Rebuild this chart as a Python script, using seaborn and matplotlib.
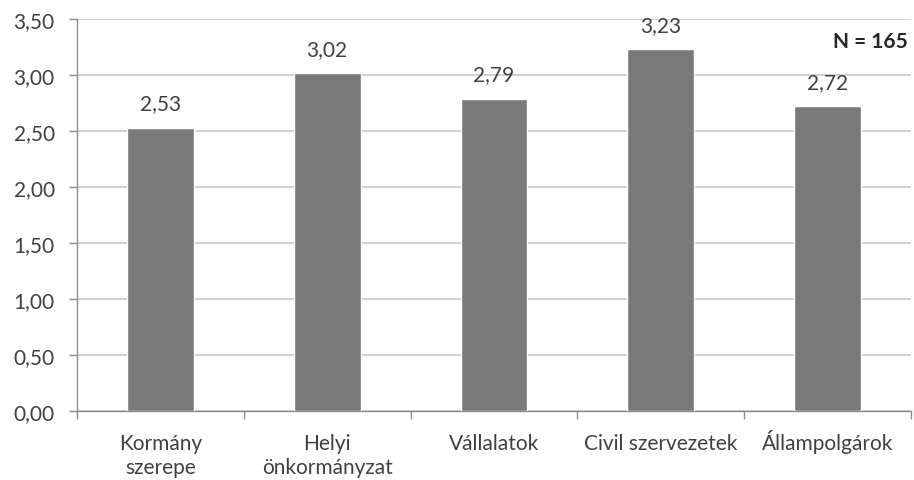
import matplotlib
matplotlib.use("Agg")
import matplotlib.pyplot as plt
import seaborn as sns
import pandas as pd
import numpy as np

categories = ["Kormány\nszerepe", "Helyi\nönkormányzat", "Vállalatok",
              "Civil szervezetek", "Állampolgárok"]
values = [2.53, 3.02, 2.79, 3.23, 2.72]
y_ticks = [0.0, 0.5, 1.0, 1.5, 2.0, 2.5, 3.0, 3.5]
note = "N = 165"

sns.set_theme(style="white")
plt.rcParams["font.family"] = ["Lato", "DejaVu Sans"]

df = pd.DataFrame({"cat": categories, "val": values})

fig = plt.figure(figsize=(9.14, 4.81), dpi=100)
ax = fig.add_axes([77 / 914, 1 - 412 / 481, (911 - 77) / 914, (412 - 20) / 481])

sns.barplot(data=df, x="cat", y="val", color="#7a7a7a", saturation=1,
            width=0.4, ax=ax, zorder=3)

fs = 15
ax.set_ylim(0, 3.5)
ax.set_xlim(-0.5, len(categories) - 0.5)
ax.set_yticks(y_ticks)
ax.set_yticklabels([f"{t:.2f}".replace(".", ",") for t in y_ticks],
                   fontsize=fs, color="#404040")
ax.yaxis.grid(True, color="#c4c4c4", linewidth=1.1, zorder=0)
ax.set_axisbelow(True)

# every label gets two lines so the first lines share one baseline
labels = [c if "\n" in c else c + "\n " for c in categories]
ax.set_xticks(range(len(categories)))
ax.set_xticklabels(labels, fontsize=fs, color="#404040",
                   linespacing=1.3, va="baseline")
ax.set_xticks(np.arange(-0.5, len(categories)), minor=True)
ax.tick_params(axis="x", which="major", length=0, pad=45)
ax.tick_params(axis="x", which="minor", length=6, width=1, color="#8c8c8c",
               direction="out", bottom=True)
ax.tick_params(axis="y", which="major", length=6, width=1, color="#8c8c8c",
               direction="out", left=True, pad=10)
ax.set_xlabel("")
ax.set_ylabel("")

for s in ["top", "right"]:
    ax.spines[s].set_visible(False)
for s in ["left", "bottom"]:
    ax.spines[s].set_color("#8c8c8c")
    ax.spines[s].set_linewidth(1)

for i, v in enumerate(values):
    ax.annotate(f"{v:.2f}".replace(".", ","), (i, v), xytext=(0, 13),
                textcoords="offset points", ha="center", va="baseline",
                fontsize=fs, color="#404040")

fig.text(908 / 914, 1 - 42 / 481, note, ha="right", va="center",
         fontsize=fs, fontweight="bold", color="#262626")

fig.savefig("out.png", dpi=100, facecolor="white")
